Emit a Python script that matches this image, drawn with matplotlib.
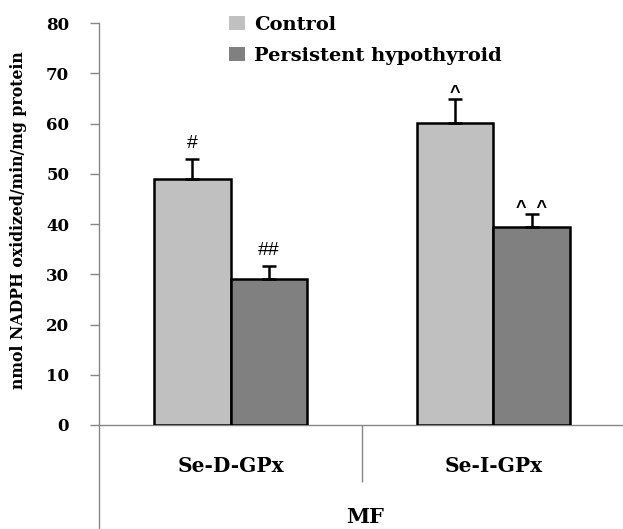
import matplotlib
matplotlib.use("Agg")
import matplotlib.pyplot as plt
import numpy as np
from matplotlib.patches import Patch

categories = ["Se-D-GPx", "Se-I-GPx"]
groups = ["Control", "Persistent hypothyroid"]
control = [48.9, 60.2]
control_err = [4.0, 4.7]
hypo = [29.1, 39.5]
hypo_err = [2.5, 2.5]
control_marks = ["#", "^"]
hypo_marks = ["##", "^  ^"]
y_label = "nmol NADPH oxidized/min/mg protein"
x_title = "MF"


def mark(ax, xi, top, text):
    # '#' sits on its baseline well above the cap, '^' is drawn high in its box
    if "^" in text:
        ax.annotate(text, xy=(xi, top), xytext=(0, 0.5), textcoords="offset points",
                    ha="center", va="baseline", fontsize=13, fontweight="bold",
                    family="Liberation Sans")
    else:
        ax.annotate(text, xy=(xi, top), xytext=(0, 8.5), textcoords="offset points",
                    ha="center", va="baseline", fontsize=14, family="Liberation Sans")


def main() -> None:
    plt.rcParams["font.family"] = ["DejaVu Serif"]
    axis_grey = "#868686"
    light = "#c0c0c0"
    dark = "#808080"

    fig = plt.figure(figsize=(6.23, 5.29), dpi=100)
    ax = fig.add_axes([0.159, 0.1966, 0.844, 0.7594])

    x = np.arange(len(categories)) + 0.5
    width = 0.29
    ekw = dict(ecolor="black", elinewidth=1.8, capsize=5, capthick=1.8)
    ax.bar(x - width / 2, control, width, color=light, edgecolor="black", linewidth=1.8,
           yerr=[np.zeros(len(control)), control_err], error_kw=ekw, zorder=3)
    ax.bar(x + width / 2, hypo, width, color=dark, edgecolor="black", linewidth=1.8,
           yerr=[np.zeros(len(hypo)), hypo_err], error_kw=ekw, zorder=3)

    for xi, v, e, m in zip(x - width / 2, control, control_err, control_marks):
        mark(ax, xi, v + e, m)
    for xi, v, e, m in zip(x + width / 2, hypo, hypo_err, hypo_marks):
        mark(ax, xi, v + e, m)

    ax.set_xlim(0, 2)
    ax.set_ylim(0, 80)
    ax.set_yticks(np.arange(0, 81, 10))
    ax.tick_params(axis="y", direction="out", length=6.5, width=1, color=axis_grey,
                   pad=15, labelsize=12)
    for lab in ax.get_yticklabels():
        lab.set_fontweight("bold")

    ax.set_xticks([1])
    ax.set_xticklabels([""])
    ax.set_xticks(x, minor=True)
    ax.set_xticklabels(categories, minor=True, fontweight="bold", fontsize=14.5)
    ax.tick_params(axis="x", which="major", direction="out", length=41, width=1, color=axis_grey)
    ax.tick_params(axis="x", which="minor", length=0, pad=22)

    for side in ["top", "right"]:
        ax.spines[side].set_visible(False)
    for side in ["left", "bottom"]:
        ax.spines[side].set_color(axis_grey)
        ax.spines[side].set_linewidth(1)
    ax.plot([0, 0], [0, -0.3], transform=ax.get_xaxis_transform(), color=axis_grey,
            linewidth=1, clip_on=False)

    ax.text(0.505, -0.229, x_title, transform=ax.transAxes, ha="center", va="center",
            fontsize=15, fontweight="bold")
    fig.text(0.03, 0.584, y_label, rotation=90, ha="center", va="center",
             fontsize=11.3, fontweight="bold")

    handles = [Patch(facecolor=light, edgecolor="none"), Patch(facecolor=dark, edgecolor="none")]
    ax.legend(handles, groups, loc="upper left", bbox_to_anchor=(229 / 623, 1 - 16 / 529),
              bbox_transform=fig.transFigure, frameon=False, borderpad=0, borderaxespad=0,
              handlelength=0.82, handleheight=0.72, handletextpad=0.45, labelspacing=0.68,
              prop={"weight": "bold", "size": 14})

    fig.savefig("out.png", dpi=100)
    plt.close(fig)


if __name__ == "__main__":
    main()
